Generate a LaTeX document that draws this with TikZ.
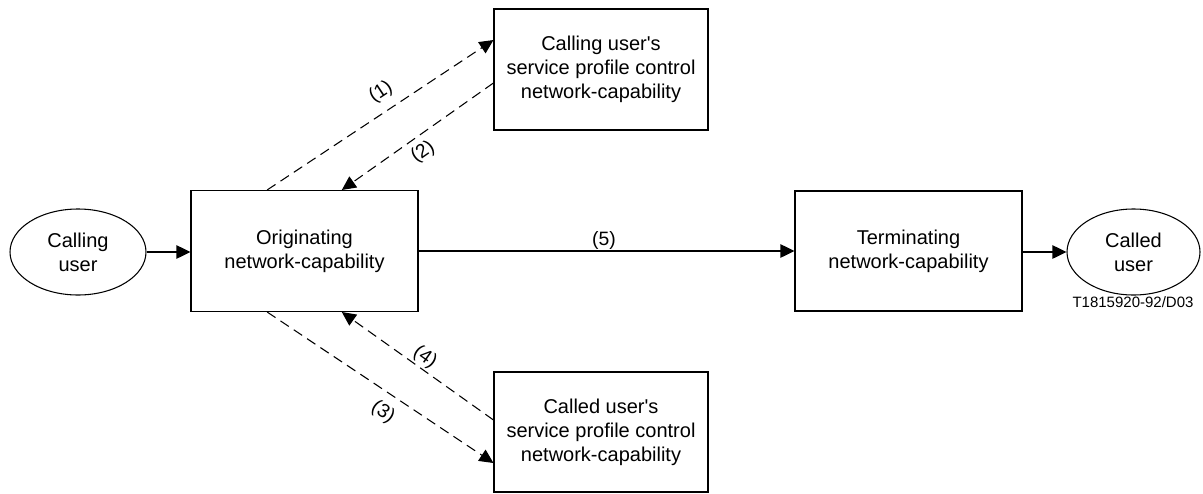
\documentclass[tikz,border=0pt]{standalone}
\usepackage{fontspec}
\setmainfont{Liberation Sans}
\usetikzlibrary{shapes.geometric,arrows.meta}
\begin{document}
\begin{tikzpicture}[x=0.75pt,y=-0.75pt,
  every node/.style={font=\fontsize{15pt}{18pt}\selectfont, align=center, inner sep=0pt},
  box/.style={draw, line width=0.8pt, rectangle, minimum width=170.25pt, minimum height=90.75pt},
  usr/.style={draw, line width=0.8pt, ellipse, minimum width=102pt, minimum height=64.5pt},
  conn/.style={line width=1.1pt, -{Triangle[length=10.5pt,width=10pt]}},
  dconn/.style={line width=0.8pt, dash pattern=on 7.5pt off 4.5pt, -{Triangle[length=10.5pt,width=10pt]}},
  lbl/.style={font=\fontsize{14.5pt}{16pt}\selectfont}]
\useasboundingbox (0,0) rectangle (1203,493);
\node[usr] (cu) at (78,252) {Calling\\user};
\node[box] (orig) at (304.5,251) {Originating\\network-capability};
\node[box, minimum width=160.5pt] (top) at (601,69.5) {Calling user\textquotesingle s\\service profile control\\network-capability};
\node[box, minimum width=160.5pt, minimum height=90pt] (bot) at (601,432) {Called user\textquotesingle s\\service profile control\\network-capability};
\node[box, minimum height=90pt] (term) at (908.5,251) {Terminating\\network-capability};
\node[usr, minimum width=99.75pt] (cd) at (1133.5,252) {Called\\user};
\node[font=\fontsize{11.25pt}{13pt}\selectfont] (code) at (1133,302) {T1815920-92/D03};
\draw[conn] (cu.east) -- (cu.east -| orig.west);
\draw[conn] (orig) -- (term);
\draw[conn] (term.east |- cd.west) -- (cd.west);
\draw[dconn] ([xshift=-28pt]orig.north) -- ([yshift=22.1pt]top.west);
\draw[dconn] ([yshift=-10.1pt]top.west) -- ([xshift=28pt]orig.north);
\draw[dconn] ([xshift=-28pt]orig.south) -- ([yshift=-23.25pt]bot.west);
\draw[dconn] ([yshift=9pt]bot.west) -- ([xshift=28pt]orig.south);
\node[lbl, rotate=33.5] (l1) at (381,92) {(1)};
\node[lbl, rotate=35] (l2) at (423,152) {(2)};
\node[lbl, rotate=-34] (l3) at (383,412) {(3)};
\node[lbl, rotate=-35] (l4) at (425,357) {(4)};
\node[lbl] (l5) at (604,240) {(5)};
\end{tikzpicture}
\end{document}
